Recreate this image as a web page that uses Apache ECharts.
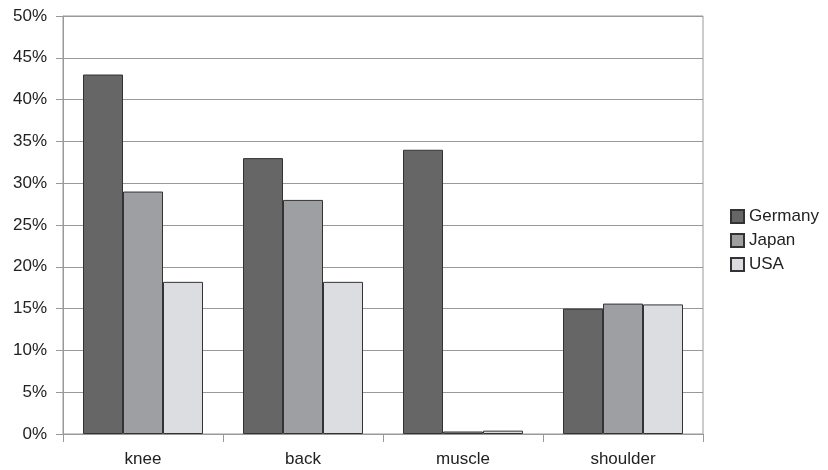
<!DOCTYPE html>
<html>
<head>
<meta charset="utf-8">
<script src="https://cdn.jsdelivr.net/npm/echarts@6/dist/echarts.min.js"></script>
<style>
html,body{margin:0;padding:0;background:#fff;}
#c{width:828px;height:470px;}
</style>
</head>
<body>
<div id="c"></div>
<script>
const categories = ['knee', 'back', 'muscle', 'shoulder'];
const germany = [43, 33, 34, 15];
const japan = [29, 28, 0.3, 15.6];
const usa = [18.2, 18.2, 0.4, 15.5];
const yTicks = [0, 5, 10, 15, 20, 25, 30, 35, 40, 45, 50];

const chart = echarts.init(document.getElementById('c'));
const font = 'Liberation Sans, Arial, sans-serif';
function mk(name, data, color) {
  return {
    name: name, type: 'bar', data: data,
    barGap: '0%', barCategoryGap: '25%',
    itemStyle: { color: color, borderColor: '#333', borderWidth: 1 },
    emphasis: { disabled: true }
  };
}
chart.setOption({
  animation: false,
  textStyle: { fontFamily: font },
  grid: { left: 63, right: 125, top: 16, bottom: 36, show: true, borderColor: '#999', borderWidth: 1 },
  legend: {
    orient: 'vertical', left: 730, top: 208, padding: 0,
    icon: 'rect',
    itemWidth: 13, itemHeight: 13, itemGap: 7,
    textStyle: { fontSize: 17, color: '#222', fontFamily: font },
    data: ['Germany', 'Japan', 'USA']
  },
  xAxis: {
    type: 'category', data: categories,
    axisLine: { lineStyle: { color: '#999' } },
    axisTick: { show: true, length: 8, lineStyle: { color: '#999' } },
    axisLabel: { fontSize: 17, color: '#222', margin: 17, fontFamily: font }
  },
  yAxis: {
    type: 'value', min: yTicks[0], max: yTicks[yTicks.length - 1], interval: 5,
    axisLine: { show: true, lineStyle: { color: '#999' } },
    axisTick: { show: true, length: 7, lineStyle: { color: '#999' } },
    axisLabel: { fontSize: 17, color: '#222', margin: 16, fontFamily: font, formatter: v => v + '%' },
    splitLine: { lineStyle: { color: '#999' } }
  },
  series: [
    mk('Germany', germany, '#666666'),
    mk('Japan', japan, '#9e9fa2'),
    mk('USA', usa, '#dcdde0')
  ]
});
</script>
</body>
</html>
